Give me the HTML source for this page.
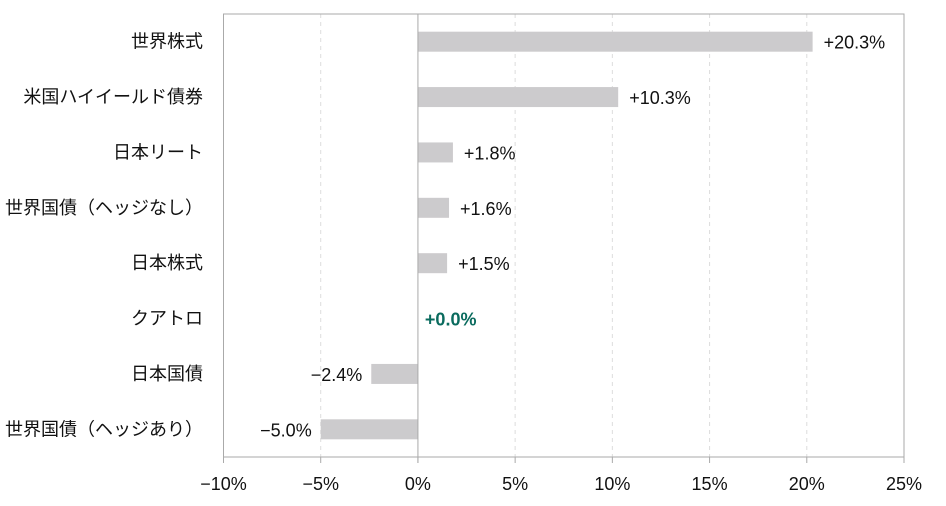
<!DOCTYPE html>
<html><head><meta charset="utf-8"><style>
body{margin:0;background:#fff}
svg text{font-family:"Liberation Sans","Noto Sans CJK JP",sans-serif;font-size:18px;fill:#111}
</style></head><body>
<svg id="c" width="946" height="501"></svg>
<script>
const categories=["世界株式","米国ハイイールド債券","日本リート","世界国債（ヘッジなし）","日本株式","クアトロ","日本国債","世界国債（ヘッジあり）"];
const values=[20.3,10.3,1.8,1.6,1.5,0.0,-2.4,-5.0];
const valueLabels=["+20.3%","+10.3%","+1.8%","+1.6%","+1.5%","+0.0%","-2.4%","-5.0%"];
const ticks=[-10,-5,0,5,10,15,20,25];
const tickLabels=["−10%","−5%","0%","5%","10%","15%","20%","25%"];
const L=223.5,R=904,T=14,B=457,xmin=-10,xmax=25;
const x=v=>L+(v-xmin)/(xmax-xmin)*(R-L);
const band=(B-T)/categories.length;
const y=i=>T+band*(i+0.5);
const svg=document.getElementById('c');
const NS="http://www.w3.org/2000/svg";
function mk(t,a,p){const e=document.createElementNS(NS,t);for(const k in a)e.setAttribute(k,a[k]);(p||svg).appendChild(e);return e;}
ticks.forEach((t,i)=>{
 if(t!==0&&t!==xmin&&t!==xmax){const g=mk('line',{x1:x(t),x2:x(t),y1:T,y2:B,stroke:'#ddd','stroke-dasharray':'4,4'});
 
 }
 const tk=mk('line',{x1:x(t),x2:x(t),y1:B,y2:B+6,stroke:'#aaa'});
 
 
 const tl=mk('text',{x:x(t),y:B+33,'text-anchor':'middle'});tl.textContent=tickLabels[i];
 
 
});
const fr=mk('rect',{x:L,y:T,width:R-L,height:B-T,fill:'none',stroke:'#aaa'});


categories.forEach((c,i)=>{
 const v=values[i],x0=x(0),x1=x(v);
 const b=mk('rect',{x:Math.min(x0,x1),y:y(i)-10,width:Math.abs(x1-x0),height:20,fill:'#cccbcd'});
 
 
 const cl=mk('text',{x:203,y:y(i)+6,'text-anchor':'end'});cl.textContent=c;
 
 
 const q=v===0;
 const vl=mk('text',{x:v<0?x1-9:x1+(q?7:11),y:y(i)+7,'text-anchor':v<0?'end':'start'});
 vl.textContent=valueLabels[i].replace('-','−');
 if(q){vl.style.fill='#0a6b5e';vl.style.fontWeight='bold';}
 
 
});
const z=mk('line',{x1:x(0),x2:x(0),y1:T,y2:B+6,stroke:'#aaa'});


</script>
</body></html>
